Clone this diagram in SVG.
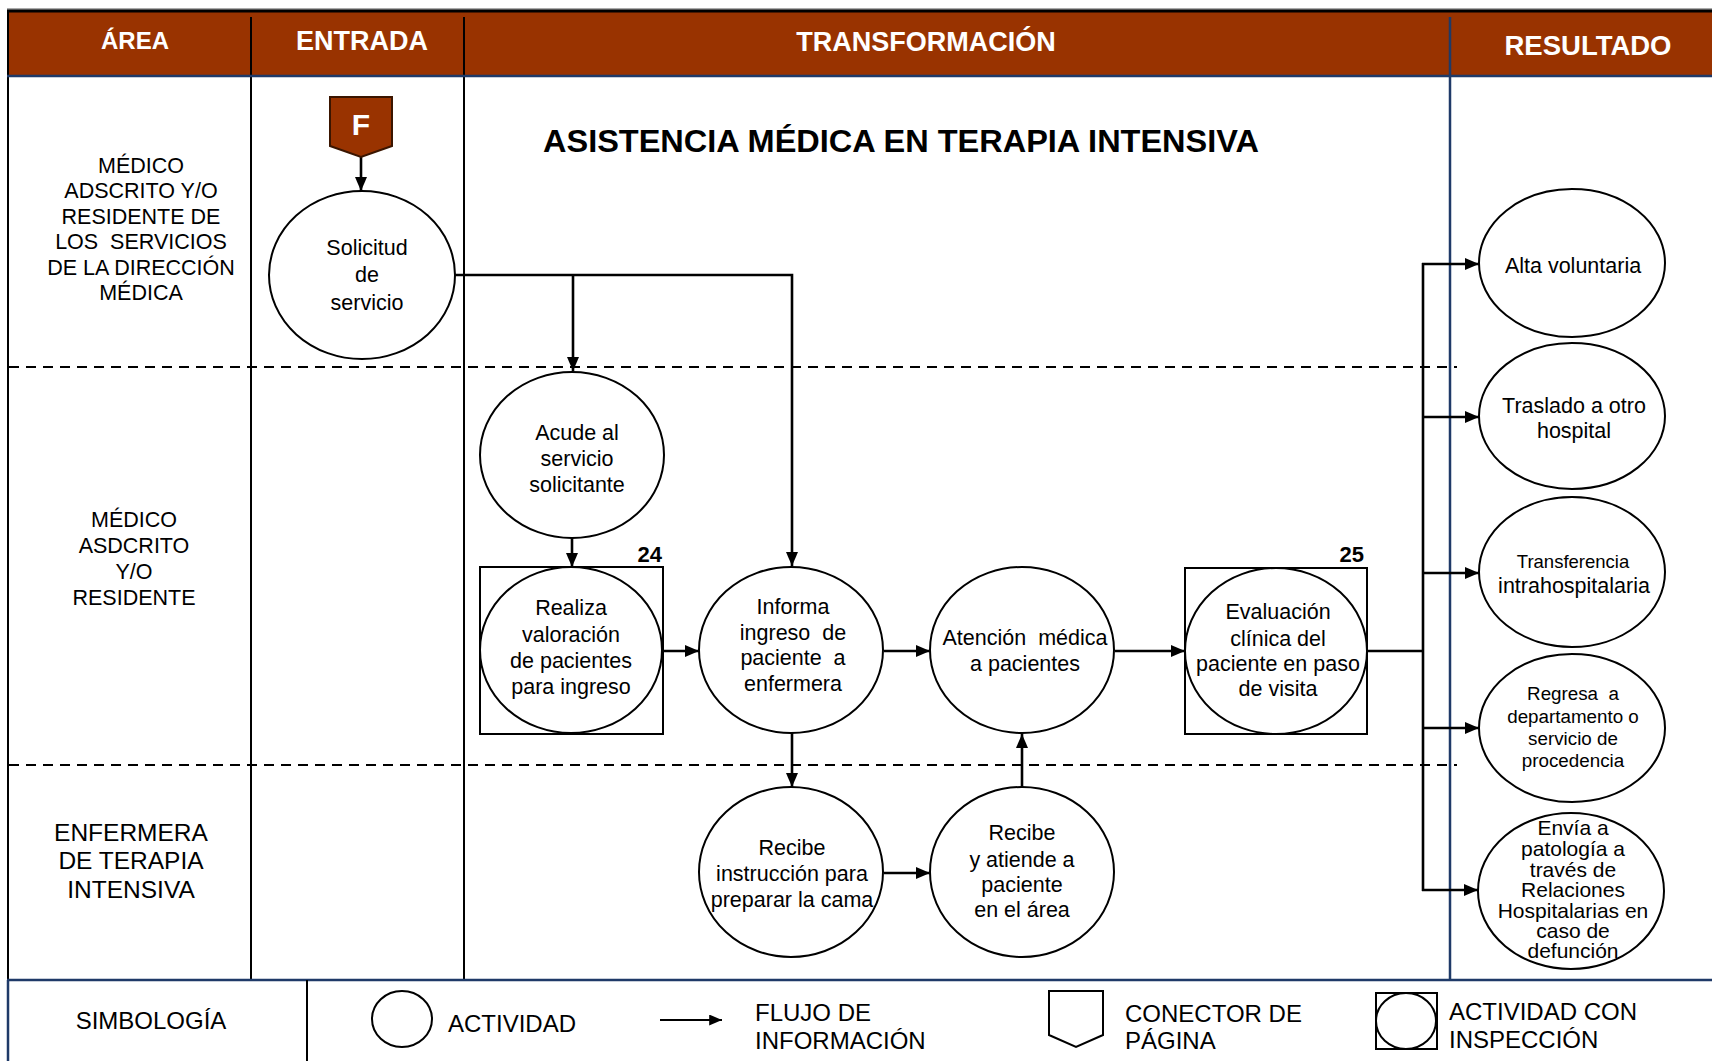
<svg xmlns="http://www.w3.org/2000/svg" width="1712" height="1061" viewBox="0 0 1712 1061">
<style>
.hd{font-family:"Liberation Sans",Arial,sans-serif;font-weight:bold;fill:#fff;text-anchor:middle}
.lane{font-family:"Liberation Sans",Arial,sans-serif;font-size:21.5px;fill:#000;text-anchor:middle}
.nt{font-family:"Liberation Sans",Arial,sans-serif;font-size:21.5px;fill:#000;text-anchor:middle}
.lg{font-family:"Liberation Sans",Arial,sans-serif;font-size:24px;fill:#000}
.num{font-family:"Liberation Sans",Arial,sans-serif;font-size:22px;font-weight:bold;fill:#000;text-anchor:end}
.act{fill:#fff;stroke:#000;stroke-width:2}
.box{fill:#fff;stroke:#000;stroke-width:2}
.flow{fill:none;stroke:#000;stroke-width:2.6}
.dash{fill:none;stroke:#000;stroke-width:2;stroke-dasharray:10 7}
.div{stroke:#000;stroke-width:2}
.blue{stroke:#1f3a68;stroke-width:2.5}
</style>
<defs>
<marker id="ah" viewBox="0 0 14 12" refX="14" refY="6" markerWidth="14" markerHeight="12" markerUnits="userSpaceOnUse" orient="auto">
<path d="M0,0 L14,6 L0,12 Z" fill="#000"/>
</marker>
<marker id="ahs" viewBox="0 0 14 12" refX="14" refY="6" markerWidth="13" markerHeight="11" markerUnits="userSpaceOnUse" orient="auto">
<path d="M0,0 L14,6 L0,12 Z" fill="#000"/>
</marker>
</defs>
<rect x="0" y="0" width="1712" height="1061" fill="#fff"/>

<g id="frame">
<rect x="7" y="11" width="1705" height="65" fill="#993300"/>
<line x1="7" y1="9" x2="1712" y2="9" stroke="#555" stroke-width="1"/>
<line x1="7" y1="11" x2="1712" y2="11" stroke="#000" stroke-width="3"/>
<line x1="8" y1="10" x2="8" y2="980" class="div"/>
<line x1="8" y1="980" x2="8" y2="1061" class="blue"/>
<line x1="251" y1="17" x2="251" y2="980" class="div"/>
<line x1="464" y1="17" x2="464" y2="980" class="div"/>
<line x1="1450" y1="17" x2="1450" y2="980" class="blue"/>
<line x1="7" y1="76" x2="1712" y2="76" class="blue"/>
<line x1="7" y1="980" x2="1712" y2="980" class="blue"/>
<line x1="307" y1="980" x2="307" y2="1061" class="div"/>
<line x1="9" y1="367" x2="1457" y2="367" class="dash"/>
<line x1="9" y1="765" x2="1457" y2="765" class="dash"/>
<text class="hd" x="135" y="49" style="font-size:24px">ÁREA</text>
<text class="hd" x="362" y="50" style="font-size:27px">ENTRADA</text>
<text class="hd" x="926" y="51" style="font-size:27px">TRANSFORMACIÓN</text>
<text class="hd" x="1588" y="55" style="font-size:27.5px">RESULTADO</text>
<text x="543" y="152" textLength="716" lengthAdjust="spacingAndGlyphs" font-family="Liberation Sans, Arial, sans-serif" font-size="32" font-weight="bold" fill="#000">ASISTENCIA MÉDICA EN TERAPIA INTENSIVA</text>
</g>

<g id="lane-labels">
<text class="lane" xml:space="preserve"><tspan x="141" y="173">MÉDICO</tspan><tspan x="141" y="198">ADSCRITO Y/O</tspan><tspan x="141" y="224">RESIDENTE DE</tspan><tspan x="141" y="249">LOS  SERVICIOS</tspan><tspan x="141" y="275">DE LA DIRECCIÓN</tspan><tspan x="141" y="300">MÉDICA</tspan></text>
<text class="lane"><tspan x="134" y="527">MÉDICO</tspan><tspan x="134" y="553">ASDCRITO</tspan><tspan x="134" y="579">Y/O</tspan><tspan x="134" y="605">RESIDENTE</tspan></text>
<text class="lane" style="font-size:24.5px"><tspan x="131" y="841">ENFERMERA</tspan><tspan x="131" y="869">DE TERAPIA</tspan><tspan x="131" y="898">INTENSIVA</tspan></text>
</g>

<g id="connectors">
<line x1="361" y1="157" x2="361" y2="191" class="flow" marker-end="url(#ah)"/>
<polyline points="455,275 792,275 792,566" class="flow" marker-end="url(#ah)"/>
<line x1="573" y1="275" x2="573" y2="371" class="flow" marker-end="url(#ah)"/>
<line x1="572" y1="538" x2="572" y2="567" class="flow" marker-end="url(#ah)"/>
<line x1="663" y1="651" x2="699" y2="651" class="flow" marker-end="url(#ah)"/>
<line x1="884" y1="651" x2="930" y2="651" class="flow" marker-end="url(#ah)"/>
<line x1="1115" y1="651" x2="1185" y2="651" class="flow" marker-end="url(#ah)"/>
<line x1="792" y1="733" x2="792" y2="787" class="flow" marker-end="url(#ah)"/>
<line x1="884" y1="873" x2="930" y2="873" class="flow" marker-end="url(#ah)"/>
<line x1="1022" y1="788" x2="1022" y2="734" class="flow" marker-end="url(#ah)"/>
<polyline points="1367,651 1423,651" class="flow"/>
<line x1="1423" y1="263" x2="1423" y2="891" class="flow"/>
<line x1="1422" y1="264" x2="1479" y2="264" class="flow" marker-end="url(#ah)"/>
<line x1="1422" y1="417" x2="1479" y2="417" class="flow" marker-end="url(#ah)"/>
<line x1="1422" y1="573" x2="1479" y2="573" class="flow" marker-end="url(#ah)"/>
<line x1="1422" y1="728" x2="1479" y2="728" class="flow" marker-end="url(#ah)"/>
<line x1="1422" y1="890" x2="1478" y2="890" class="flow" marker-end="url(#ah)"/>
</g>

<g id="conector-f">
<path d="M330,97 H392 V146 L361,157 L330,146 Z" fill="#993300" stroke="#3a1500" stroke-width="2"/>
<text x="361" y="135" class="hd" style="font-size:30px">F</text>
</g>

<g id="solicitud">
<ellipse cx="362" cy="275" rx="93" ry="84" class="act"/>
<text class="nt"><tspan x="367" y="255">Solicitud</tspan><tspan x="367" y="282">de</tspan><tspan x="367" y="310">servicio</tspan></text>
</g>

<g id="acude">
<ellipse cx="572" cy="455" rx="92" ry="83" class="act"/>
<text class="nt"><tspan x="577" y="440">Acude al</tspan><tspan x="577" y="466">servicio</tspan><tspan x="577" y="492">solicitante</tspan></text>
</g>

<g id="realiza">
<rect x="480" y="567" width="183" height="167" class="box"/>
<ellipse cx="571" cy="650" rx="91" ry="83" class="act"/>
<text class="num" x="662" y="562">24</text>
<text class="nt"><tspan x="571" y="615">Realiza</tspan><tspan x="571" y="642">valoración</tspan><tspan x="571" y="668">de pacientes</tspan><tspan x="571" y="694">para ingreso</tspan></text>
</g>

<g id="informa">
<ellipse cx="791" cy="650" rx="92" ry="83" class="act"/>
<text class="nt" xml:space="preserve"><tspan x="793" y="614">Informa</tspan><tspan x="793" y="640">ingreso  de</tspan><tspan x="793" y="665">paciente  a</tspan><tspan x="793" y="691">enfermera</tspan></text>
</g>

<g id="atencion">
<ellipse cx="1022" cy="650" rx="92" ry="83" class="act"/>
<text class="nt" xml:space="preserve"><tspan x="1025" y="645">Atención  médica</tspan><tspan x="1025" y="671">a pacientes</tspan></text>
</g>

<g id="evaluacion">
<rect x="1185" y="568" width="182" height="166" class="box"/>
<ellipse cx="1276" cy="651" rx="91" ry="83" class="act"/>
<text class="num" x="1364" y="562">25</text>
<text class="nt"><tspan x="1278" y="619">Evaluación</tspan><tspan x="1278" y="646">clínica del</tspan><tspan x="1278" y="671">paciente en paso</tspan><tspan x="1278" y="696">de visita</tspan></text>
</g>

<g id="recibe-instruccion">
<ellipse cx="791" cy="872" rx="92" ry="85" class="act"/>
<text class="nt"><tspan x="792" y="855">Recibe</tspan><tspan x="792" y="881">instrucción para</tspan><tspan x="792" y="907">preparar la cama</tspan></text>
</g>

<g id="recibe-atiende">
<ellipse cx="1022" cy="872" rx="92" ry="85" class="act"/>
<text class="nt"><tspan x="1022" y="840">Recibe</tspan><tspan x="1022" y="867">y atiende a</tspan><tspan x="1022" y="892">paciente</tspan><tspan x="1022" y="917">en el área</tspan></text>
</g>

<g id="alta">
<ellipse cx="1572" cy="263" rx="93" ry="74" class="act"/>
<text class="nt" x="1573" y="273">Alta voluntaria</text>
</g>

<g id="traslado">
<ellipse cx="1572" cy="416" rx="93" ry="73" class="act"/>
<text class="nt"><tspan x="1574" y="413">Traslado a otro</tspan><tspan x="1574" y="438">hospital</tspan></text>
</g>

<g id="transferencia">
<ellipse cx="1572" cy="572" rx="93" ry="75" class="act"/>
<text class="nt"><tspan x="1573" y="568" style="font-size:18.5px">Transferencia</tspan><tspan x="1574" y="593">intrahospitalaria</tspan></text>
</g>

<g id="regresa">
<ellipse cx="1572" cy="728" rx="93" ry="74" class="act"/>
<text class="nt" style="font-size:18.8px" xml:space="preserve"><tspan x="1573" y="700">Regresa  a</tspan><tspan x="1573" y="723">departamento o</tspan><tspan x="1573" y="745">servicio de</tspan><tspan x="1573" y="767">procedencia</tspan></text>
</g>

<g id="envia">
<ellipse cx="1571" cy="891" rx="93" ry="78" class="act"/>
<text class="nt" style="font-size:21px"><tspan x="1573" y="835">Envía a</tspan><tspan x="1573" y="856">patología a</tspan><tspan x="1573" y="877">través de</tspan><tspan x="1573" y="897">Relaciones</tspan><tspan x="1573" y="918">Hospitalarias en</tspan><tspan x="1573" y="938">caso de</tspan><tspan x="1573" y="958">defunción</tspan></text>
</g>

<g id="legend">
<text class="lg" x="151" y="1029" text-anchor="middle">SIMBOLOGÍA</text>
<ellipse cx="402" cy="1019" rx="30" ry="28" class="act"/>
<text class="lg" x="448" y="1032">ACTIVIDAD</text>
<line x1="660" y1="1020" x2="722" y2="1020" stroke="#000" stroke-width="2.2" marker-end="url(#ahs)"/>
<text class="lg"><tspan x="755" y="1021">FLUJO DE</tspan><tspan x="755" y="1049">INFORMACIÓN</tspan></text>
<path d="M1049,991 H1103 V1035 L1076,1047 L1049,1035 Z" fill="#fff" stroke="#000" stroke-width="2"/>
<text class="lg"><tspan x="1125" y="1022">CONECTOR DE</tspan><tspan x="1125" y="1049">PÁGINA</tspan></text>
<rect x="1376" y="993" width="61" height="56" class="box"/>
<ellipse cx="1406" cy="1021" rx="30" ry="28" class="act"/>
<text class="lg"><tspan x="1449" y="1020">ACTIVIDAD CON</tspan><tspan x="1449" y="1048">INSPECCIÓN</tspan></text>
</g>
</svg>
